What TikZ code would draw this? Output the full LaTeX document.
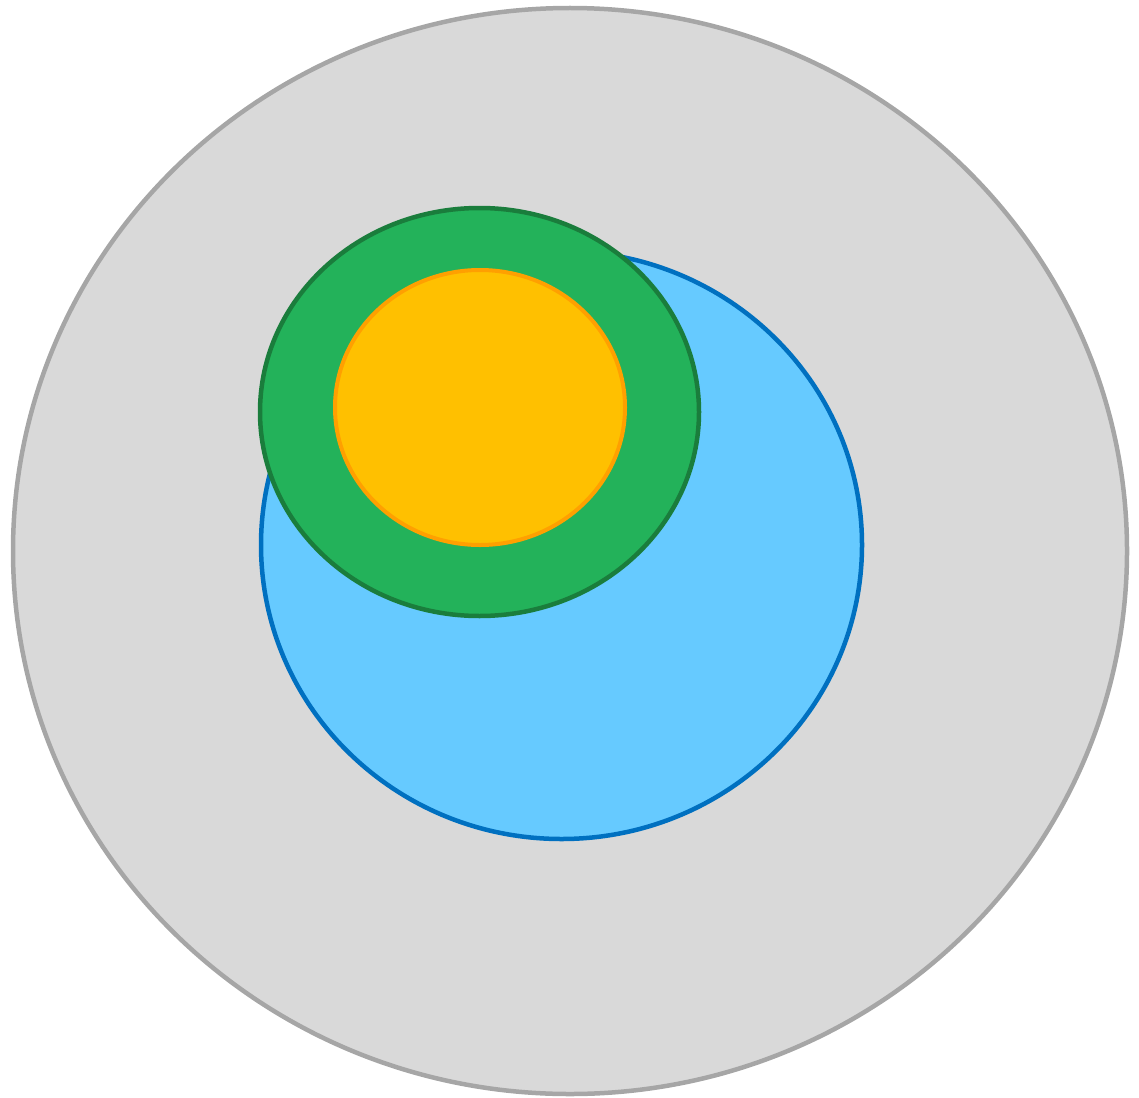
\documentclass[tikz,border=0pt]{standalone}
\definecolor{grayfill}{HTML}{D9D9D9}
\definecolor{graydraw}{HTML}{A6A6A6}
\definecolor{bluefill}{HTML}{66CAFF}
\definecolor{bluedraw}{HTML}{0070C0}
\definecolor{greenfill}{HTML}{23B25A}
\definecolor{greendraw}{HTML}{1A7D3C}
\definecolor{yellowfill}{HTML}{FFC000}
\definecolor{yellowdraw}{HTML}{FFA000}
\tikzset{
  setshape/.style={line width=4.5pt},
}
\begin{document}
\begin{tikzpicture}[x=1pt,y=-1pt]
\useasboundingbox (0,0) rectangle (1139,1097);
\draw[setshape,fill=grayfill,draw=graydraw] (570,551) ellipse [x radius=557, y radius=543];
\draw[setshape,fill=bluefill,draw=bluedraw] (561.5,545) ellipse [x radius=300.5, y radius=294];
\draw[setshape,fill=greenfill,draw=greendraw] (479.5,412) ellipse [x radius=219.5, y radius=204];
\draw[setshape,line width=4pt,fill=yellowfill,draw=yellowdraw] (480,407.5) ellipse [x radius=145, y radius=137.5];
\end{tikzpicture}
\end{document}
